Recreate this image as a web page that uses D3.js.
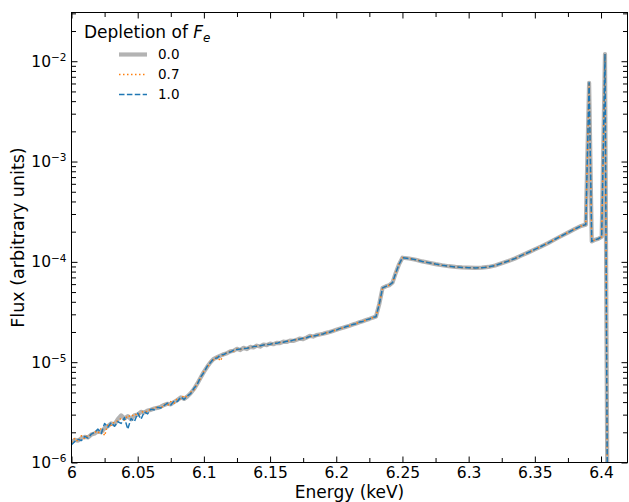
<!DOCTYPE html>
<html lang="en">
<head>
    <meta charset="UTF-8">
    <title>Fe K-alpha flux vs energy</title>
    <script src="https://d3js.org/d3.v7.min.js"></script>
    <style>
        body {
            margin: 0;
            padding: 0;
            background-color: white;
        }
        svg text {
            font-family: "DejaVu Sans", sans-serif;
            fill: #000;
        }
    </style>
</head>
<body>
    <div id="chart"></div>
    <script>
        const width = 629;
        const height = 502;

        // energy grid (keV)
        const energy = [
            6.0, 6.0025, 6.005, 6.0075, 6.01, 6.0125, 6.015, 6.0175, 6.02, 6.0225,
            6.025, 6.0275, 6.03, 6.0325, 6.035, 6.0375, 6.04, 6.0425, 6.045, 6.0475,
            6.05, 6.0525, 6.055, 6.0575, 6.06, 6.0625, 6.065, 6.0675, 6.07, 6.0725,
            6.075, 6.0775, 6.08, 6.0825, 6.085, 6.0875, 6.09, 6.0925, 6.095, 6.0975,
            6.1, 6.1025, 6.105, 6.1075, 6.11, 6.1125, 6.115, 6.1175, 6.12, 6.1225,
            6.125, 6.1275, 6.13, 6.1325, 6.135, 6.1375, 6.14, 6.1425, 6.145, 6.1475,
            6.15, 6.1525, 6.155, 6.1575, 6.16, 6.1625, 6.165, 6.1675, 6.17, 6.1725,
            6.175, 6.1775, 6.18, 6.1825, 6.185, 6.1875, 6.19, 6.1925, 6.195, 6.1975,
            6.2, 6.2025, 6.205, 6.2075, 6.21, 6.2125, 6.215, 6.2175, 6.22, 6.2225,
            6.225, 6.2275, 6.23,
            // shared part starts here
            6.2325, 6.235, 6.2375, 6.24, 6.2425, 6.245, 6.2475, 6.25,
            6.255, 6.26, 6.265, 6.27, 6.275, 6.28, 6.285, 6.29, 6.295, 6.3,
            6.305, 6.31, 6.315, 6.32, 6.325, 6.33, 6.335, 6.34, 6.345, 6.35,
            6.355, 6.36, 6.365, 6.37, 6.375, 6.38, 6.385,
            6.3885, 6.391, 6.393, 6.395, 6.398, 6.4005, 6.403, 6.4055, 6.41, 6.42
        ];

        // flux in units of 1e-6, noisy low-energy part per depletion value
        const head00 = [
            1.60, 1.68, 1.65, 1.75, 1.80, 1.78, 1.90, 1.95, 2.05, 2.00,
            2.20, 2.30, 2.45, 2.40, 2.70, 2.95, 2.75, 2.90, 2.70, 2.95,
            3.00, 3.20, 3.15, 3.30, 3.35, 3.45, 3.50, 3.60, 3.75, 3.85,
            3.80, 4.00, 4.20, 4.45, 4.30, 4.55, 4.90, 5.40, 6.10, 7.00,
            8.00, 9.00, 10.0, 10.8, 11.2, 11.6, 12.0, 12.3, 12.8, 13.0,
            13.6, 13.2, 13.9, 13.5, 14.2, 14.0, 14.6, 14.3, 15.0, 14.8,
            15.3, 15.1, 15.6, 15.5, 16.0, 15.9, 16.4, 16.3, 16.7, 17.2,
            17.0, 17.6, 18.3, 18.0, 18.6, 18.9, 19.2, 19.6, 20.0, 20.5,
            21.0, 21.5, 22.0, 22.6, 23.1, 23.7, 24.3, 25.0, 25.6, 26.3,
            27.0, 27.8, 28.5
        ];
        const head07 = [
            1.58, 1.75, 1.62, 1.85, 1.72, 1.88, 1.85, 2.05, 1.95, 2.20,
            1.85, 2.40, 2.35, 2.55, 2.60, 2.75, 2.65, 2.95, 2.85, 3.05,
            2.95, 3.15, 3.25, 3.20, 3.45, 3.40, 3.65, 3.45, 3.80, 3.70,
            4.05, 3.90, 4.35, 4.30, 4.65, 4.45, 5.00, 5.30, 6.20, 6.90,
            8.10, 8.90, 10.1, 10.6, 11.3, 10.3, 12.1, 12.4, 12.9, 12.9,
            13.5, 13.4, 13.8, 13.7, 14.1, 14.2, 14.5, 14.5, 14.9, 14.9,
            15.2, 15.3, 15.5, 15.7, 15.9, 16.1, 16.3, 16.5, 16.8, 17.1,
            17.2, 17.6, 18.1, 18.1, 18.5, 18.9, 19.2, 19.6, 20.0, 20.5,
            21.0, 21.5, 22.0, 22.6, 23.1, 23.7, 24.3, 25.0, 25.6, 26.3,
            27.0, 27.8, 28.5
        ];
        const head10 = [
            1.50, 1.62, 1.70, 1.66, 1.82, 1.75, 1.92, 2.00, 2.15, 1.95,
            2.45, 2.25, 2.50, 2.30, 2.55, 2.45, 2.80, 2.15, 2.75, 2.55,
            3.10, 2.70, 3.20, 3.05, 3.40, 3.35, 3.55, 3.50, 3.70, 3.90,
            3.75, 4.10, 4.05, 4.50, 4.25, 4.60, 4.85, 5.50, 6.00, 7.10,
            7.90, 9.10, 9.90, 10.9, 11.0, 11.8, 11.9, 12.5, 12.6, 13.2,
            13.4, 13.5, 13.7, 13.8, 14.0, 14.3, 14.4, 14.6, 14.8, 15.0,
            15.1, 15.4, 15.4, 15.8, 15.8, 16.2, 16.2, 16.6, 16.8, 17.0,
            17.3, 17.5, 18.0, 18.2, 18.4, 19.0, 19.1, 19.7, 19.9, 20.6,
            20.9, 21.6, 21.9, 22.7, 23.0, 23.8, 24.2, 25.1, 25.5, 26.4,
            26.9, 27.9, 28.4
        ];
        // shared high-energy part (the three curves overlap here)
        const tail = [
            38, 55, 57, 58.5, 62, 78, 95, 110,
            108, 105, 101, 98, 95, 92.5, 90.5, 89, 88, 87.5,
            87, 87.5, 89, 92, 97, 102, 108, 116, 124, 133,
            143, 154, 167, 181, 196, 212, 228,
            235, 6100, 160, 165, 170, 178, 11800, 0.01, 0.01, 0.01
        ];

        const depletion = ["0.0", "0.7", "1.0"];
        const fluxSeries = [head00.concat(tail), head07.concat(tail), head10.concat(tail)];

        const xMajor = [6, 6.05, 6.1, 6.15, 6.2, 6.25, 6.3, 6.35, 6.4];
        const xMinor = [6.025, 6.075, 6.125, 6.175, 6.225, 6.275, 6.325, 6.375];
        const yMajor = [1e-6, 1e-5, 1e-4, 1e-3, 1e-2];

        const styles = [
            { color: "gray", width: 4.2, dash: null, opacity: 0.6 },
            { color: "#ff7f0e", width: 1.5, dash: "1.5,2.5", opacity: 1 },
            { color: "#1f77b4", width: 1.5, dash: "5.5,2.4", opacity: 1 }
        ];

        const margin = { top: 12.5, right: 1.5, bottom: 39.5, left: 71.5 };
        const x = d3.scaleLinear([6, 6.42], [margin.left, width - margin.right]);
        const y = d3.scaleLog([1e-6, 3.06e-2], [height - margin.bottom, margin.top]);

        const yMinor = [];
        yMajor.forEach(p => { for (let k = 2; k <= 9; k++) if (p * k <= 3.06e-2) yMinor.push(p * k); });

        const svg = d3.select("#chart").append("svg")
            .attr("width", width)
            .attr("height", height);

        svg.append("clipPath").attr("id", "clip")
            .append("rect")
            .attr("x", margin.left).attr("y", margin.top)
            .attr("width", width - margin.left - margin.right)
            .attr("height", height - margin.top - margin.bottom);

        const line = d3.line()
            .x((d, i) => x(energy[i]))
            .y(d => y(d * 1e-6));

        svg.append("g").attr("clip-path", "url(#clip)")
            .selectAll("path")
            .data(fluxSeries)
            .join("path")
            .attr("d", line)
            .attr("fill", "none")
            .attr("stroke", (d, i) => styles[i].color)
            .attr("stroke-width", (d, i) => styles[i].width)
            .attr("stroke-opacity", (d, i) => styles[i].opacity)
            .attr("stroke-dasharray", (d, i) => styles[i].dash)
            .attr("stroke-linejoin", "round");

        const bottom = height - margin.bottom;
        const right = width - margin.right;
        const tickLen = 6, minorLen = 4.5;

        const styleAxis = g => {
            g.select(".domain").remove();
            g.selectAll(".tick line").attr("stroke", "#000");
        };

        // x axes (ticks point inward)
        svg.append("g").attr("transform", `translate(0,${bottom})`)
            .call(d3.axisBottom(x).tickValues(xMajor).tickSize(-tickLen).tickPadding(4)
                .tickFormat(d => String(+d.toFixed(3))))
            .call(styleAxis)
            .call(g => g.selectAll("text").attr("font-size", 15.5));
        svg.append("g").attr("transform", `translate(0,${bottom})`)
            .call(d3.axisBottom(x).tickValues(xMinor).tickSize(-minorLen).tickFormat(""))
            .call(styleAxis);
        svg.append("g").attr("transform", `translate(0,${margin.top})`)
            .call(d3.axisTop(x).tickValues(xMajor).tickSize(-tickLen).tickFormat(""))
            .call(styleAxis);
        svg.append("g").attr("transform", `translate(0,${margin.top})`)
            .call(d3.axisTop(x).tickValues(xMinor).tickSize(-minorLen).tickFormat(""))
            .call(styleAxis);

        // y axes
        svg.append("g").attr("transform", `translate(${margin.left},0)`)
            .call(d3.axisLeft(y).tickValues(yMajor).tickSize(-tickLen).tickPadding(5))
            .call(styleAxis)
            .call(g => g.selectAll(".tick text")
                .attr("font-size", 15.5)
                .attr("dy", "0.32em")
                .text(null)
                .each(function (d) {
                    const t = d3.select(this);
                    t.append("tspan").text("10");
                    t.append("tspan").attr("dy", "-0.55em").attr("font-size", 10.5)
                        .text("\u2212" + Math.round(-Math.log10(d)));
                }));
        svg.append("g").attr("transform", `translate(${margin.left},0)`)
            .call(d3.axisLeft(y).tickValues(yMinor).tickSize(-minorLen).tickFormat(""))
            .call(styleAxis);
        svg.append("g").attr("transform", `translate(${right},0)`)
            .call(d3.axisRight(y).tickValues(yMajor).tickSize(-tickLen).tickFormat(""))
            .call(styleAxis);
        svg.append("g").attr("transform", `translate(${right},0)`)
            .call(d3.axisRight(y).tickValues(yMinor).tickSize(-minorLen).tickFormat(""))
            .call(styleAxis);

        // frame
        svg.append("rect")
            .attr("x", margin.left).attr("y", margin.top)
            .attr("width", right - margin.left)
            .attr("height", bottom - margin.top)
            .attr("fill", "none")
            .attr("stroke", "#000")
            .attr("stroke-width", 1);

        // axis labels
        svg.append("text")
            .attr("x", (margin.left + right) / 2)
            .attr("y", 497.5)
            .attr("text-anchor", "middle")
            .attr("font-size", 17)
            .text("Energy (keV)");
        svg.append("text")
            .attr("transform", `translate(24,${(margin.top + bottom) / 2}) rotate(-90)`)
            .attr("text-anchor", "middle")
            .attr("font-size", 17.5)
            .text("Flux (arbitrary units)");

        // legend
        const legend = svg.append("g");
        const title = legend.append("text")
            .attr("x", 84).attr("y", 38)
            .attr("font-size", 17)
            .text("Depletion of ");
        title.append("tspan").attr("font-style", "italic").text("F");
        title.append("tspan").attr("font-style", "italic").attr("font-size", 12)
            .attr("dy", "0.3em").text("e");

        const rows = legend.selectAll("g.row")
            .data(depletion)
            .join("g")
            .attr("class", "row")
            .attr("transform", (d, i) => `translate(0,${54.5 + i * 20})`);
        rows.append("line")
            .attr("x1", 119).attr("x2", 147)
            .attr("stroke", (d, i) => styles[i].color)
            .attr("stroke-width", (d, i) => styles[i].width)
            .attr("stroke-opacity", (d, i) => styles[i].opacity)
            .attr("stroke-dasharray", (d, i) => styles[i].dash);
        rows.append("text")
            .attr("x", 158)
            .attr("dy", "0.35em")
            .attr("font-size", 13.5)
            .text(d => d);
    </script>
</body>
</html>
